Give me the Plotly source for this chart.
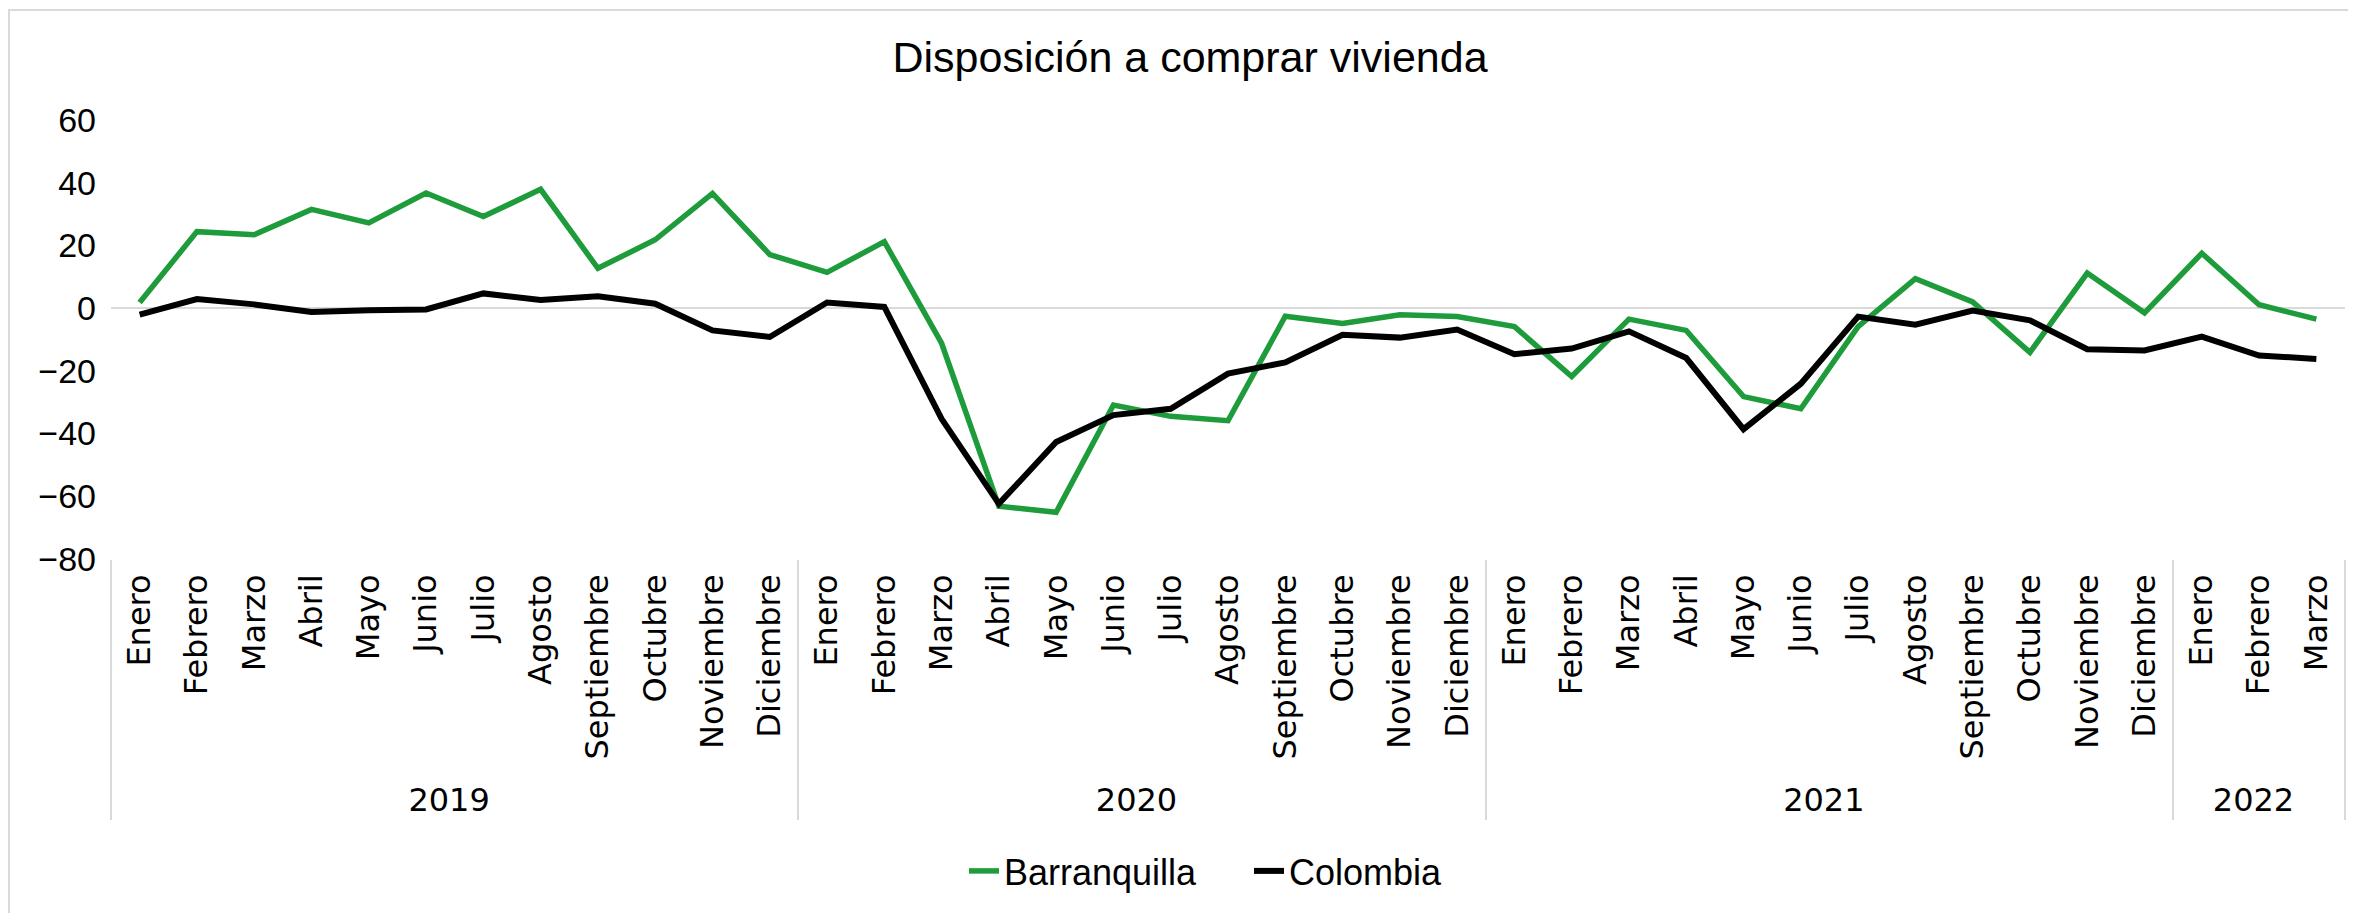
import plotly.graph_objects as go

years = ["2019"] * 12 + ["2020"] * 12 + ["2021"] * 12 + ["2022"] * 3
month_names = ["Enero", "Febrero", "Marzo", "Abril", "Mayo", "Junio", "Julio",
               "Agosto", "Septiembre", "Octubre", "Noviembre", "Diciembre"]
months = month_names * 3 + month_names[:3]

barranquilla = [1.8, 24.4, 23.4, 31.5, 27.2, 36.7, 29.2, 37.9, 12.7, 21.8, 36.6, 17.1,
                11.4, 21.2, -11.2, -63.2, -65.1, -30.9, -34.5, -35.9, -2.6, -4.9, -2.1, -2.7,
                -5.9, -21.8, -3.5, -7.1, -28.2, -32.1, -5.9, 9.4, 2.0, -14.1, 11.2, -1.5,
                17.5, 1.1, -3.5]
colombia = [-2.1, 2.9, 1.2, -1.2, -0.7, -0.4, 4.7, 2.6, 3.8, 1.4, -7.1, -9.2,
            1.8, 0.4, -35.3, -62.4, -42.7, -34.1, -32.1, -20.9, -17.3, -8.5, -9.4, -6.8,
            -14.7, -12.9, -7.4, -15.9, -38.6, -24.1, -2.7, -5.3, -0.8, -3.9, -13.1, -13.5,
            -9.1, -15.1, -16.2]

# page is offset by the 8px body margin
OFF = 8
W, H = 2356 - OFF, 913 - OFF
L, R, T, B = 111 - OFF, 11, 120 - OFF, 354
pw, ph = W - L - R, H - T - B

fig = go.Figure()
fig.add_trace(go.Scatter(x=[years, months], y=barranquilla, name="Barranquilla",
                         mode="lines", line=dict(color="#1E9B3B", width=5.5)))
fig.add_trace(go.Scatter(x=[years, months], y=colombia, name="Colombia",
                         mode="lines", line=dict(color="#000000", width=6)))

main_font = "Liberation Sans, Arial, sans-serif"

fig.update_layout(
    width=W, height=H,
    margin=dict(l=L, r=R, t=T, b=B, autoexpand=False),
    paper_bgcolor="white", plot_bgcolor="white",
    title=dict(text="Disposición a comprar vivienda", x=(1190 - OFF) / W, xanchor="center",
               y=1 - (57 - OFF) / H, yanchor="middle",
               font=dict(family=main_font, size=43, color="black")),
    legend=dict(orientation="h", x=(1249 - OFF - L) / pw, xanchor="center",
                y=(T + ph - (871 - OFF)) / ph, yanchor="middle",
                entrywidth=240, entrywidthmode="pixels",
                font=dict(family=main_font, size=36, color="black"),
                bgcolor="rgba(0,0,0,0)"),
    xaxis=dict(type="multicategory", tickangle=-90, showgrid=False, zeroline=False,
               range=[-0.5, 38.5], automargin=False,
               showline=False, showdividers=True, dividercolor="#d9d9d9", dividerwidth=2,
               tickfont=dict(family="DejaVu Sans, sans-serif", size=32, color="black"),
               ticklabelstandoff=8),
    yaxis=dict(range=[-80, 60], dtick=20, tick0=0, showgrid=False, showline=False,
               automargin=False,
               zeroline=True, zerolinecolor="#d9d9d9", zerolinewidth=2,
               tickfont=dict(family=main_font, size=34, color="black"),
               ticks="", ticklabelstandoff=14),
    shapes=[dict(type="rect", xref="paper", yref="paper",
                 x0=(1 - L) / pw, x1=(W + 20 - L) / pw,
                 y0=(T + ph - H - 20) / ph, y1=(T + ph - 2) / ph,
                 line=dict(color="#d9d9d9", width=2), fillcolor="rgba(0,0,0,0)", layer="below")],
    showlegend=True,
)

fig.write_html("out.html")
